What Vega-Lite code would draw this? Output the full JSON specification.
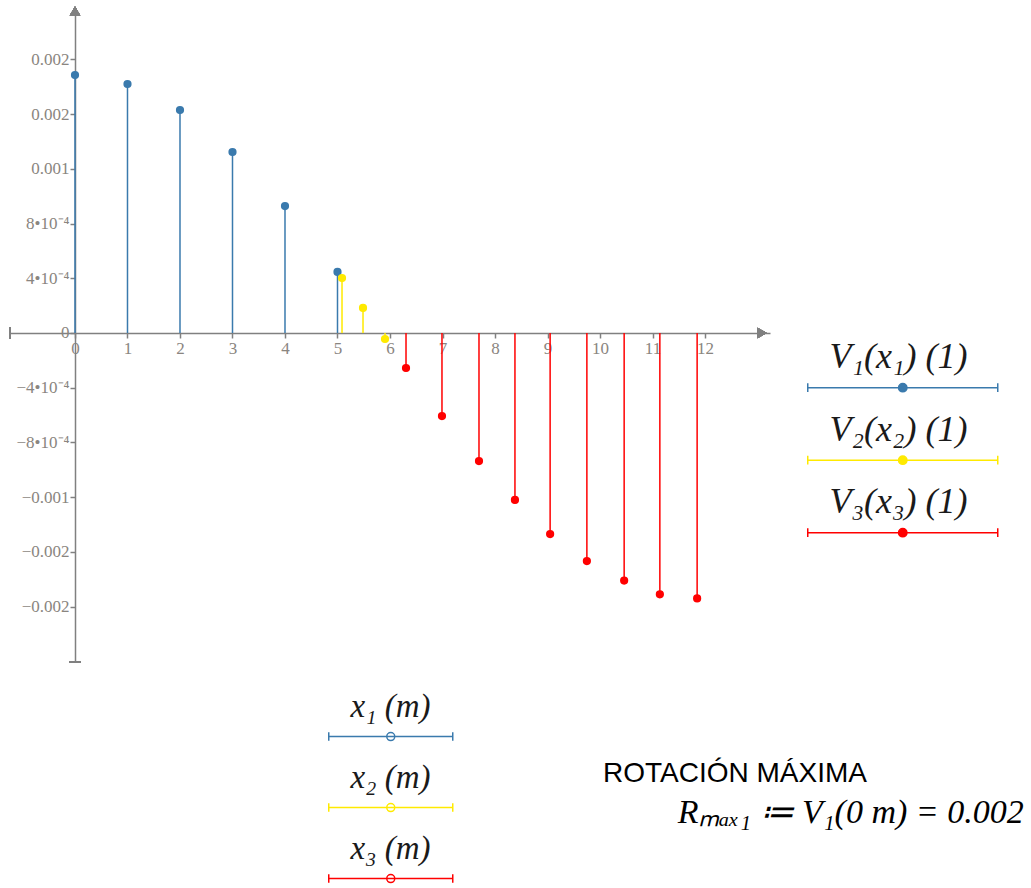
{
  "$schema": "https://vega.github.io/schema/vega-lite/v6.json",
  "width": 760,
  "height": 652,
  "autosize": {"type": "none"},
  "padding": {"left": 10, "top": 10, "right": 261, "bottom": 226},
  "background": "white",
  "config": {"view": {"stroke": null}, "axis": {"grid": false}},
  "title": {
    "text": "ROTACIÓN MÁXIMA",
    "subtitle": "\u200b\u2003\u2003\u2009Rₘₐₓ₁ ≔ V₁(0 m) = 0.002",
    "orient": "bottom",
    "anchor": "start",
    "dx": 596,
    "offset": -126,
    "font": "Liberation Sans",
    "fontSize": 28,
    "fontWeight": "normal",
    "color": "#000000",
    "subtitleFont": "Liberation Serif",
    "subtitleFontStyle": "italic",
    "subtitleFontSize": 34,
    "subtitleColor": "#000000",
    "subtitlePadding": 8
  },
  "data": {
    "values": [
      {"s": "V1", "t": "x1", "x": 0, "v": 0.001886},
      {"s": "V1", "t": "x1", "x": 1, "v": 0.00182},
      {"s": "V1", "t": "x1", "x": 2, "v": 0.00163},
      {"s": "V1", "t": "x1", "x": 3, "v": 0.001323},
      {"s": "V1", "t": "x1", "x": 4, "v": 0.000928},
      {"s": "V1", "t": "x1", "x": 5, "v": 0.000446},
      {"s": "V2", "t": "x2", "x": 5.086, "v": 0.000402},
      {"s": "V2", "t": "x2", "x": 5.486, "v": 0.000183},
      {"s": "V2", "t": "x2", "x": 5.905, "v": -0.000044},
      {"s": "V3", "t": "x3", "x": 6.305, "v": -0.000256},
      {"s": "V3", "t": "x3", "x": 6.99, "v": -0.000607},
      {"s": "V3", "t": "x3", "x": 7.695, "v": -0.000936},
      {"s": "V3", "t": "x3", "x": 8.38, "v": -0.00122},
      {"s": "V3", "t": "x3", "x": 9.05, "v": -0.00147},
      {"s": "V3", "t": "x3", "x": 9.75, "v": -0.001667},
      {"s": "V3", "t": "x3", "x": 10.46, "v": -0.00181},
      {"s": "V3", "t": "x3", "x": 11.14, "v": -0.00191},
      {"s": "V3", "t": "x3", "x": 11.85, "v": -0.00194}
    ]
  },
  "layer": [
    {
      "mark": {"type": "rule", "strokeWidth": 1.5},
      "encoding": {
        "x": {
          "field": "x", "type": "quantitative",
          "scale": {"domain": [-1.238, 13.238], "nice": false, "zero": false},
          "axis": {
            "offset": -329, "title": null,
            "values": [0,1,2,3,4,5,6,7,8,9,10,11,12],
            "labelColor": "#8a8580", "labelFont": "Liberation Serif", "labelFontSize": 17,
            "domainColor": "#808080", "domainWidth": 1.5,
            "tickColor": "#808080", "tickWidth": 1.5, "tickSize": 5,
            "labelPadding": 2, "labelFlush": false, "labelOverlap": false
          }
        },
        "y": {
          "field": "v", "type": "quantitative",
          "scale": {"domain": [-0.002405, 0.002361], "nice": false, "zero": false},
          "axis": {
            "offset": -65, "title": null,
            "values": [0.002, 0.0016, 0.0012, 0.0008, 0.0004, 0, -0.0004, -0.0008, -0.0012, -0.0016, -0.002],
            "labelExpr": "abs(datum.value) < 1e-9 ? '0' : abs(datum.value) < 0.001 ? ((datum.value < 0 ? '−' : '') + format(abs(datum.value) * 10000, '.0f') + '•10⁻⁴') : format(datum.value, '.3f')",
            "labelColor": "#8a8580", "labelFont": "Liberation Serif", "labelFontSize": 17,
            "domainColor": "#808080", "domainWidth": 1.5,
            "tickColor": "#808080", "tickWidth": 1.5, "tickSize": 5,
            "labelPadding": 1, "labelFlush": false, "labelOverlap": false
          }
        },
        "y2": {"datum": 0},
        "color": {
          "field": "s", "type": "nominal",
          "scale": {"domain": ["V1", "V2", "V3"], "range": ["#3a7aad", "#ffea00", "#ff0000"]},
          "legend": {
            "orient": "none", "legendX": 874.75, "legendY": 329.25, "title": null,
            "symbolType": "M-9.5,3.04H9.5M-9.5,2.6V3.48M9.5,2.6V3.48M0.42,3.04A0.42,0.42,0,1,1,-0.42,3.04A0.42,0.42,0,1,1,0.42,3.04",
            "symbolSize": 400, "symbolStrokeWidth": 1.5,
            "labelExpr": "datum.label == 'V1' ? 'V₁(x₁)  (1)' : datum.label == 'V2' ? 'V₂(x₂)  (1)' : 'V₃(x₃)  (1)'",
            "labelFont": "Liberation Serif", "labelFontStyle": "italic", "labelFontSize": 36,
            "labelColor": "#1a1a1a", "labelAlign": "center", "labelBaseline": "middle",
            "labelOffset": -22.25, "labelLimit": 400, "rowPadding": 16.5
          }
        }
      }
    },
    {
      "mark": {"type": "point", "size": 45, "strokeWidth": 1.5, "opacity": 1},
      "encoding": {
        "x": {"field": "x", "type": "quantitative"},
        "y": {"field": "v", "type": "quantitative"},
        "fill": {
          "field": "s", "type": "nominal",
          "scale": {"domain": ["V1", "V2", "V3"], "range": ["#3a7aad", "#ffea00", "#ff0000"]},
          "legend": null
        },
        "stroke": {
          "field": "t", "type": "nominal",
          "scale": {"domain": ["x1", "x2", "x3"], "range": ["#3a7aad", "#ffea00", "#ff0000"]},
          "legend": {
            "orient": "none", "legendX": 364.25, "legendY": 680.25, "title": null,
            "symbolType": "M-6.2,2.98H6.2M-6.2,2.56V3.4M6.2,2.56V3.4M0.4,2.98A0.4,0.4,0,1,1,-0.4,2.98A0.4,0.4,0,1,1,0.4,2.98",
            "symbolSize": 400, "symbolStrokeWidth": 1.5,
            "symbolFillColor": "white",
            "labelExpr": "datum.label == 'x1' ? 'x₁  (m)' : datum.label == 'x2' ? 'x₂  (m)' : 'x₃  (m)'",
            "labelFont": "Liberation Serif", "labelFontStyle": "italic", "labelFontSize": 33,
            "labelColor": "#1a1a1a", "labelAlign": "center", "labelBaseline": "middle",
            "labelOffset": -16.75, "labelLimit": 400, "rowPadding": 17
          }
        }
      }
    },
    {
      "mark": {"type": "point", "shape": "triangle-up", "filled": true, "color": "#808080", "size": 110, "opacity": 1, "clip": false},
      "encoding": {"x": {"datum": 0}, "y": {"datum": 0.002354}}
    },
    {
      "mark": {"type": "point", "shape": "triangle-right", "filled": true, "color": "#808080", "size": 110, "opacity": 1, "clip": false},
      "encoding": {"x": {"datum": 13.086}, "y": {"datum": 0}}
    },
    {
      "mark": {"type": "point", "shape": "M0,-1V1", "filled": false, "color": "#808080", "strokeWidth": 1.5, "size": 144, "opacity": 1, "clip": false},
      "encoding": {"x": {"datum": -1.238}, "y": {"datum": 0}}
    },
    {
      "mark": {"type": "point", "shape": "M-1,0H1", "filled": false, "color": "#808080", "strokeWidth": 1.5, "size": 144, "opacity": 1, "clip": false},
      "encoding": {"x": {"datum": 0}, "y": {"datum": -0.002405}}
    }
  ]
}
